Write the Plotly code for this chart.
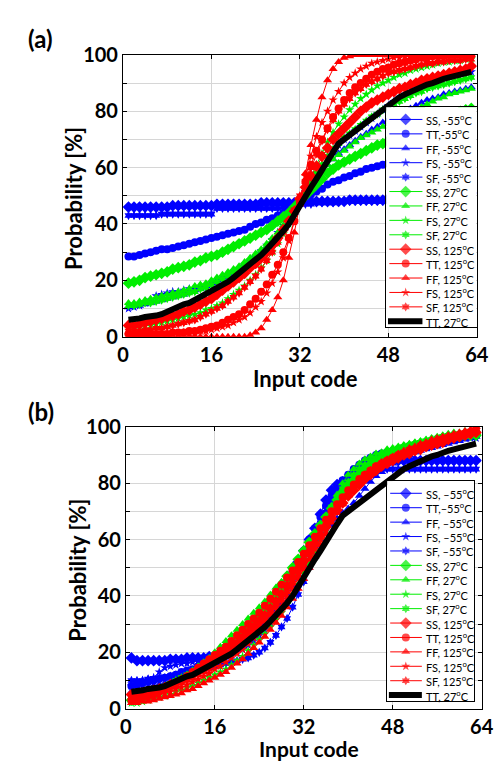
import plotly.graph_objects as go

W, H = 503, 762
codes = list(range(1, 64))

# ---------------- panel (a) data ----------------
tt27_nominal = [6, 6, 6.5, 7, 7, 7.5, 8, 9, 9.5, 10.5,
                11.5, 12, 13, 14, 15.5, 16.5, 17, 18, 19.5, 21,
                22.5, 24, 26, 27.5, 29, 31, 33, 35.5, 37.5, 40,
                43.5, 47, 50, 53, 56, 59.5, 62.5, 65.5, 68.5, 70,
                71.5, 73, 75, 76.5, 78, 79.5, 81, 82.5, 83.5, 85,
                86, 87, 88, 88.5, 89.5, 90, 91, 91.5, 92, 92.5,
                93.5, 93.5, 94]

a_ss_m55 = [46, 46, 46, 46, 46, 46, 46, 46, 46.5, 46.5,
            46.5, 46.5, 46.5, 46.5, 46.5, 46.5, 47, 47, 47, 47,
            47, 47, 47, 47, 47.5, 47.5, 47.5, 47.5, 47.5, 47.5,
            47.5, 47.5, 48, 48, 48, 48, 48, 48, 48, 48,
            48.5, 48.5, 48.5, 48.5, 48.5, 48.5, 48.5, 49, 49, 49,
            49, 49, 49, 49, 49, 49.5, 49.5, 49.5, 49.5, 49.5,
            50, 50, 51]
a_tt_m55 = [28.5, 28.5, 29, 29.5, 30, 30.5, 31, 31, 31.5, 32,
            32.5, 33, 33.5, 34, 34.5, 35, 35.5, 36, 36.5, 37,
            37.5, 38, 39, 40, 40.5, 41.5, 42, 43, 44, 45,
            46, 47.5, 49, 50.5, 51.5, 52.5, 54, 55, 55.5, 56.5,
            57, 58, 58.5, 59.5, 60, 60.5, 61, 61.5, 62, 62.5,
            63, 63.5, 64, 64.5, 65, 66, 66.5, 67, 67.5, 68,
            68.5, 69, 70]
a_ff_m55 = [10.5, 11, 11, 11.5, 12, 12.5, 13, 13.5, 14, 14.5,
            15, 16, 16.5, 17, 18, 19, 20, 21, 22, 23,
            24.5, 26, 27.5, 29, 30.5, 32, 34, 36, 38.5, 41,
            44, 47, 50, 53, 56, 58.5, 61, 63, 65, 66.5,
            68, 69.5, 71, 72, 73.5, 74.5, 76, 77, 78, 79,
            80, 81, 82, 83, 84, 84.5, 85, 86, 86.5, 87,
            87.5, 88, 88.5]
a_fs_m55 = [10, 10.5, 11, 12, 13, 14.5, 15, 15.5, 16, 16,
            16.5, 17, 17, 17.5, 18, 18.5, 19.5, 20.5, 21.5, 23,
            24, 25.5, 27, 28.5, 30.5, 32.5, 34.5, 37, 39.5, 42,
            45, 48, 51.5, 55, 58, 61, 63.5, 66, 68, 70,
            71.5, 73, 74.5, 76, 77.5, 79, 80.5, 82, 83.5, 85,
            86, 87, 88, 89, 90, 90.5, 91, 92, 92.5, 93,
            93.5, 94, 94]
a_sf_m55 = [43, 43, 43, 43, 43, 43, 43.5, 43.5, 43.5, 43.5,
            43.5, 43.5, 43.5, 43.5, 43.5, 43.5, 45.5, 45.5, 45.5, 45.5,
            45.5, 45.5, 45.5, 45.5, 45.5, 45.5, 45.5, 45.5, 46, 46,
            46.5, 47, 47, 47, 47.5, 47.5, 47.5, 47.5, 48, 48,
            48, 48, 48, 48, 48, 48, 48, 48, 48.5, 48.5,
            48.5, 48.5, 49, 49, 49, 49, 49.5, 49.5, 50, 50,
            50.5, 51, 54]
a_ss_27 = [19, 19.5, 20, 21, 21.5, 22, 22.5, 23, 24, 24.5,
           25, 25.5, 26.5, 27, 28, 28.5, 29, 30, 31, 32,
           33, 34, 35, 36, 37, 38, 39.5, 41, 42.5, 44,
           46, 48, 50, 52, 54, 56, 58, 59.5, 61, 62,
           63, 64, 65, 66, 67, 68, 68.5, 69.5, 70.5, 71.5,
           72.5, 73, 74, 75, 75.5, 76.5, 77, 78, 78.5, 79,
           80, 80.5, 81]
a_ff_27 = [12, 12, 12.5, 13, 13.5, 14, 14.5, 15, 15.5, 16,
           16.5, 17, 18, 18.5, 19, 20, 21, 22, 23, 24,
           25, 26.5, 28, 29.5, 31, 33, 35, 37, 39.5, 42,
           45, 48, 51, 54, 56.5, 59, 61, 63, 64.5, 66,
           67.5, 69, 70.5, 71.5, 72.5, 73.5, 74.5, 75.5, 76.5, 77.5,
           78.5, 79.5, 80.5, 81.5, 82.5, 83.5, 84.5, 85, 86, 86.5,
           87, 87.5, 88]
a_fs_27 = [3, 3, 3.5, 4, 4, 4.5, 5, 5.5, 6, 6.5,
           7, 7.5, 8, 8.5, 9.5, 10, 11, 12, 13.5, 15,
           16.5, 18, 20, 22, 24.5, 27, 30, 33, 36.5, 40,
           44, 48, 52.5, 57, 61, 65, 69, 72.5, 75.5, 78,
           80.5, 82.5, 84.5, 86, 87.5, 89, 90, 91, 92, 93,
           93.5, 94.5, 95, 95.5, 96, 96.5, 97, 97.5, 97.5, 98,
           98, 98.5, 98.5]
a_sf_27 = [11, 11, 11.5, 12, 12, 12.5, 13, 13.5, 14, 14.5,
           15, 15.5, 16, 17, 17.5, 18.5, 19.5, 20.5, 21.5, 23,
           24, 25.5, 27, 28.5, 30, 32, 34, 36, 38.5, 41,
           44, 47.5, 51, 54.5, 58, 61, 64, 66.5, 68.5, 70.5,
           72, 73.5, 75, 76.5, 78, 79, 80.5, 81.5, 82.5, 83.5,
           84.5, 85.5, 86.5, 87, 88, 88.5, 89, 89.5, 90, 90.5,
           91, 91.5, 92]
a_ss_125 = [4, 4, 4.5, 5, 5.5, 6, 6.5, 7, 7.5, 8,
            9, 9.5, 10.5, 11.5, 12.5, 13.5, 15, 16.5, 18, 19.5,
            21, 22.5, 24.5, 26, 28, 30, 32.5, 35, 38, 41,
            44.5, 49, 53, 57, 60.5, 64, 67, 70, 72, 74,
            76, 78, 80, 81.5, 83, 84, 85, 86, 87, 88,
            88.5, 89.5, 90, 91, 91.5, 92, 92.5, 93, 93.5, 94,
            94.5, 95, 96]
a_tt_125 = [1, 1, 1, 1, 1, 1, 1, 1, 1.5, 1.5,
            1.5, 2, 2, 2.5, 3, 3.5, 4, 5, 6, 7,
            8, 9.5, 11.5, 13.5, 16, 18.5, 22, 25.5, 30, 35,
            41, 48, 55, 61, 66, 70, 74, 78, 81, 84,
            86.5, 88.5, 90, 91.5, 93, 94, 95, 95.5, 96.5, 97,
            97.5, 98, 98.5, 99, 99, 99.5, 99.5, 99.5, 100, 100,
            100, 100, 100]
a_ff_125 = [0, 0, 0, 0, 0, 0, 0, 0, 0, 0,
            0, 0, 0, 0, 0, 0, 0, 0, 0, 0,
            0, 0, 0.5, 1.5, 3, 6, 9.5, 14, 20, 28,
            37, 47, 58, 68, 77, 85, 91, 95, 97.5, 99,
            99.5, 100, 100, 100, 100, 100, 100, 100, 100, 100,
            100, 100, 100, 100, 100, 100, 100, 100, 100, 100,
            100, 100, 100]
a_fs_125 = [0.5, 0.5, 0.5, 0.5, 0.5, 0.5, 1, 1, 1, 1,
            1.5, 1.5, 1.5, 2, 2, 2.5, 3, 3.5, 4, 5,
            6, 7, 8.5, 10.5, 12.5, 15.5, 19, 23, 28, 34,
            41, 49, 57, 64, 71, 76, 80, 84, 87, 90,
            92, 93.5, 95, 96, 97, 97.5, 98, 98.5, 99, 99,
            99.5, 99.5, 99.5, 99.5, 100, 100, 100, 100, 100, 100,
            100, 100, 100]
a_sf_125 = [2, 2, 2, 2.5, 2.5, 3, 3, 3.5, 4, 4.5,
            5, 5.5, 6, 7, 8, 9, 10, 11, 12.5, 14,
            15.5, 17.5, 19.5, 21.5, 24, 27, 30, 33.5, 37, 41,
            45, 50, 55, 60, 65, 69.5, 73.5, 77, 80, 82.5,
            84.5, 86.5, 88, 89.5, 90.5, 91.5, 92.5, 93.5, 94, 94.5,
            95, 95.5, 96, 96.5, 97, 97, 97.5, 97.5, 98, 98,
            98, 98.5, 98.5]

# ---------------- panel (b) data ----------------
b_ss_m55 = [18, 17, 17, 17, 17, 17, 17, 17.5, 17.5, 17.5,
            18, 18, 18, 18, 18.5, 18.5, 19, 19.5, 20.5, 22,
            23.5, 25.5, 27.5, 30, 32.5, 35, 38, 41, 44.5, 48,
            52, 56, 60, 64, 69, 74, 77.5, 79.5, 80.5, 81.5,
            83, 85, 86.5, 87, 87.5, 88, 88, 88, 88, 88,
            88, 88, 88, 88, 88, 88, 88, 88, 88, 88,
            88, 88, 88]
b_tt_m55 = [8, 8.5, 9, 9.5, 10, 10.5, 11, 11.5, 12, 13,
            13.5, 14, 15, 16, 17, 18, 19, 20, 21, 22.5,
            24, 26, 28, 30.5, 33, 35.5, 38.5, 41.5, 45, 48.5,
            52, 56, 60, 64, 68, 72, 75.5, 78.5, 81, 83,
            85, 86.5, 88, 89, 90, 90.5, 91, 91.5, 92, 92.5,
            93, 93.5, 94, 94.5, 95, 95.5, 96, 96, 96.5, 96.5,
            97, 97, 97]
b_ff_m55 = [6, 6.5, 7, 7.5, 8, 8.5, 9, 9.5, 10, 11,
            12, 12.5, 13.5, 14.5, 15.5, 16.5, 17.5, 18.5, 19.5, 21,
            22.5, 24, 25.5, 27.5, 29.5, 32, 34.5, 37.5, 40.5, 44,
            47.5, 51, 54.5, 57.5, 60, 62, 65, 67.5, 69.5, 71,
            73, 75.5, 78, 80.5, 82.5, 84, 85.5, 87, 88, 89,
            90, 91, 91.5, 92, 92.5, 93, 93.5, 94, 94.5, 95,
            95.5, 96, 96.5]
b_fs_m55 = [8, 9, 10, 10.5, 11, 13, 14.5, 15, 15.5, 16,
            16, 16.5, 17, 17, 17.5, 18, 18, 18.5, 19, 20,
            21, 22.5, 24, 26, 28, 30.5, 33, 36, 39.5, 43,
            47, 51, 55.5, 60, 65, 70, 74, 77.5, 80, 82.5,
            84.5, 86, 87.5, 88.5, 89.5, 90, 90.5, 91, 91.5, 92,
            92.5, 93, 93.5, 94, 94.5, 95, 95, 95.5, 95.5, 96,
            96, 96, 96]
b_sf_m55 = [10, 10, 10, 10.5, 10.5, 11, 11, 11.5, 12, 12,
            12.5, 13, 13.5, 14, 14.5, 15, 15.5, 16, 16.5, 17,
            17.5, 18, 19, 20, 21.5, 23.5, 26, 29, 32, 36,
            40.5, 45, 50, 56, 62, 68, 73, 76.5, 79, 80.5,
            81.5, 82.5, 83.5, 84, 84.5, 85, 85, 85, 85, 85,
            85, 85, 85, 85, 85, 85, 85, 85, 85, 85,
            85, 85, 85]
b_ss_27 = [3, 3.5, 4, 4.5, 5, 6, 7, 8, 9, 10,
           11, 12.5, 14, 15.5, 17, 18.5, 20, 21.5, 23, 25,
           27, 29, 31, 33.5, 36, 38.5, 41, 44, 47, 50,
           53, 56, 59, 62, 65, 68, 71, 74, 76.5, 79,
           81, 83, 85, 86.5, 88, 89, 90, 91, 91.5, 92.5,
           93, 93.5, 94, 94.5, 95, 95.5, 96, 96, 96.5, 96.5,
           97, 97, 97]
b_ff_27 = [3, 3.5, 4, 5, 5.5, 6.5, 7.5, 8.5, 9.5, 10.5,
           12, 13.5, 15, 16.5, 18, 20, 22, 24, 26, 28,
           30, 32, 34, 36, 38, 40.5, 43, 45, 47.5, 50,
           53, 56, 59, 62, 65, 68, 72, 76, 80, 83,
           85, 87, 88.5, 89.5, 90.5, 91, 92, 92.5, 93, 93.5,
           94, 94.5, 95, 95.5, 96, 96.5, 97, 97.5, 98, 98,
           98.5, 98.5, 99]
b_fs_27 = [2, 2, 2.5, 3, 3.5, 4, 4.5, 5, 6, 6.5,
           7.5, 8, 9, 10, 11, 12, 13, 14, 15.5, 17,
           18.5, 20.5, 22.5, 24.5, 26.5, 29, 31.5, 34, 37, 40.5,
           44, 48, 52, 56, 60, 64, 68, 72, 75.5, 78.5,
           81, 83, 85, 86.5, 88, 89, 90, 91, 92, 92.5,
           93, 93.5, 94, 94.5, 95, 95.5, 96, 96, 96.5, 97,
           97, 97.5, 97.5]
b_sf_27 = [4, 4.5, 5, 5.5, 6, 7, 8, 9, 10, 11,
           12, 13, 14, 15, 16.5, 18, 19.5, 21, 22.5, 24,
           26, 28, 30, 32, 34.5, 37, 39.5, 42, 45, 48,
           51, 54, 57.5, 61, 64.5, 68, 71.5, 75, 78, 80.5,
           83, 85, 86.5, 88, 89, 90, 91, 91.5, 92.5, 93,
           93.5, 94, 94.5, 95, 95.5, 96, 96.5, 97, 97, 97.5,
           97.5, 98, 98]
b_ss_125 = [5, 5, 5.5, 6, 6.5, 7, 7.5, 8.5, 9, 10,
            11, 12, 13, 14, 15.5, 17, 18.5, 20, 21.5, 23,
            25, 27, 29, 31, 33, 35.5, 38, 40.5, 43.5, 46.5,
            49.5, 52.5, 55.5, 58.5, 61.5, 64.5, 67.5, 70.5, 73, 75.5,
            77.5, 79.5, 81.5, 83, 84.5, 86, 87, 88, 89, 90,
            90.5, 91.5, 92, 93, 93.5, 94, 94.5, 95.5, 96, 96.5,
            97, 97.5, 98]
b_tt_125 = [3, 3.5, 4, 4.5, 5, 6, 7, 8, 9, 10,
            11.5, 13, 14.5, 16, 17.5, 19, 20.5, 22, 24, 26,
            28, 30, 32, 34, 36.5, 39, 41.5, 44, 46.5, 49,
            52, 55, 58, 61, 64, 67, 70, 72.5, 75, 77.5,
            79.5, 81.5, 83, 84.5, 86, 87, 88, 89, 90, 90.5,
            91.5, 92, 93, 93.5, 94, 95, 95.5, 96, 96.5, 97,
            97.5, 98, 98.5]
b_ff_125 = [2, 2, 2.5, 2.5, 3, 3.5, 4, 4.5, 5, 5.5,
            6.5, 7, 8, 9, 10, 11, 12, 13, 14.5, 16,
            17.5, 19.5, 21.5, 23.5, 25.5, 28, 30.5, 33, 36, 39,
            42.5, 46, 50, 54, 58, 62, 66, 69.5, 72.5, 75.5,
            78, 80.5, 82.5, 84.5, 86, 87.5, 88.5, 89.5, 90.5, 91.5,
            92.5, 93, 94, 94.5, 95.5, 96, 96.5, 97, 97.5, 98,
            98.5, 99, 100]
b_fs_125 = [3, 3, 3.5, 4, 4.5, 5, 5.5, 6, 7, 7.5,
            8.5, 9.5, 10.5, 11.5, 12.5, 14, 15, 16.5, 18, 19.5,
            21, 23, 25, 27, 29, 31.5, 34, 36.5, 39.5, 42.5,
            46, 49.5, 53, 56.5, 60, 63.5, 67, 70, 73, 76,
            78.5, 80.5, 82.5, 84, 85.5, 87, 88, 89, 90, 91,
            91.5, 92.5, 93, 94, 94.5, 95, 95.5, 96, 96.5, 97,
            97.5, 98, 99]
b_sf_125 = [4, 4, 4.5, 5, 5.5, 6, 6.5, 7.5, 8, 9,
            10, 11, 12, 13, 14, 15.5, 17, 18.5, 20, 21.5,
            23, 25, 27, 29, 31, 33.5, 36, 38.5, 41.5, 44.5,
            47.5, 51, 54.5, 58, 61.5, 65, 68, 71, 74, 76.5,
            79, 81, 83, 84.5, 86, 87, 88, 89, 90, 91,
            92, 92.5, 93.5, 94, 94.5, 95, 96, 96.5, 97, 97.5,
            98, 98.5, 99]

# ---------------- series metadata ----------------
series_colors = ["#0000ff"] * 5 + ["#00ee00"] * 4 + ["#ff0000"] * 5 + ["#000000"]
series_symbols = ["diamond", "circle", "triangle-up", "star", "hexagram",
                  "diamond", "triangle-up", "star", "hexagram",
                  "diamond", "circle", "triangle-up", "star", "hexagram", None]
series_msize = {"diamond": 9, "circle": 8, "triangle-up": 8, "star": 7, "hexagram": 7}

labels_a = ["SS, -55<sup>o</sup>C", "TT,-55<sup>o</sup>C", "FF, -55<sup>o</sup>C",
            "FS, -55<sup>o</sup>C", "SF, -55<sup>o</sup>C",
            "SS, 27<sup>o</sup>C", "FF, 27<sup>o</sup>C", "FS, 27<sup>o</sup>C", "SF, 27<sup>o</sup>C",
            "SS, 125<sup>o</sup>C", "TT, 125<sup>o</sup>C", "FF, 125<sup>o</sup>C",
            "FS, 125<sup>o</sup>C", "SF, 125<sup>o</sup>C", "TT, 27<sup>o</sup>C"]
labels_b = [s.replace("-55", "\u201355") for s in labels_a]

data_a = [a_ss_m55, a_tt_m55, a_ff_m55, a_fs_m55, a_sf_m55,
          a_ss_27, a_ff_27, a_fs_27, a_sf_27,
          a_ss_125, a_tt_125, a_ff_125, a_fs_125, a_sf_125, tt27_nominal]
data_b = [b_ss_m55, b_tt_m55, b_ff_m55, b_fs_m55, b_sf_m55,
          b_ss_27, b_ff_27, b_fs_27, b_sf_27,
          b_ss_125, b_tt_125, b_ff_125, b_fs_125, b_sf_125, tt27_nominal]

for d in data_a + data_b:
    assert len(d) == len(codes), len(d)

x_ticks = [0, 16, 32, 48, 64]

fig = go.Figure()


def add_panel(data, labels, xa, ya, lxa, lya):
    for vals, col, sym in zip(data, series_colors, series_symbols):
        if sym is None:
            fig.add_trace(go.Scatter(x=codes, y=vals, mode="lines", xaxis=xa, yaxis=ya,
                                     line=dict(color=col, width=6), showlegend=False,
                                     hoverinfo="skip"))
        else:
            fig.add_trace(go.Scatter(x=codes, y=vals, mode="lines+markers", xaxis=xa, yaxis=ya,
                                     line=dict(color=col, width=1),
                                     marker=dict(symbol=sym, size=series_msize[sym], color=col,
                                                 line=dict(width=0)),
                                     showlegend=False, hoverinfo="skip"))
    # custom legend box (keys)
    for i, (lab, col, sym) in enumerate(zip(labels, series_colors, series_symbols)):
        if sym is None:
            fig.add_trace(go.Scatter(x=[0.02, 0.40], y=[i, i], mode="lines", xaxis=lxa, yaxis=lya,
                                     line=dict(color=col, width=6), showlegend=False,
                                     hoverinfo="skip"))
        else:
            fig.add_trace(go.Scatter(x=[0.035, 0.215, 0.40], y=[i, i, i], mode="lines+markers",
                                     xaxis=lxa, yaxis=lya, line=dict(color=col, width=1),
                                     marker=dict(symbol=sym, size=[0, series_msize[sym], 0],
                                                 color=col, line=dict(width=0)),
                                     showlegend=False, hoverinfo="skip"))
        fig.add_annotation(x=0.42, y=i, xref=lxa, yref=lya, text=lab, showarrow=False,
                           xanchor="left", yanchor="middle",
                           font=dict(family="Lato", size=11, color="black"))


add_panel(data_a, labels_a, "x", "y", "x3", "y3")
add_panel(data_b, labels_b, "x2", "y2", "x4", "y4")

grid_col = "#d6d6d6"
tick_font = dict(family="Lato", size=20, color="black", weight="bold")


def px_dom(a, b, total):
    return [a / total, b / total]


def y_dom(top, bottom):
    return [1 - bottom / H, 1 - top / H]


def main_x(dom, anchor):
    return dict(domain=dom, anchor=anchor, range=[0, 64], tickvals=x_ticks,
                showgrid=True, gridcolor=grid_col, gridwidth=1, zeroline=False,
                showline=True, linecolor="black", linewidth=1, mirror="ticks",
                ticks="inside", ticklen=4, tickcolor="black", tickfont=tick_font,
                fixedrange=True)


def main_y(dom, anchor):
    return dict(domain=dom, anchor=anchor, range=[0, 100], tick0=0, dtick=20,
                showgrid=True, gridcolor=grid_col, gridwidth=1, zeroline=False,
                showline=True, linecolor="black", linewidth=1, mirror="ticks",
                ticks="inside", ticklen=4, tickcolor="black", tickfont=tick_font,
                minor=dict(dtick=10, showgrid=True, gridcolor=grid_col, ticks="inside",
                           ticklen=4, tickcolor="black"),
                fixedrange=True)


def leg_x(dom, anchor):
    return dict(domain=dom, anchor=anchor, range=[0, 1], showgrid=False, zeroline=False,
                showticklabels=False, ticks="", showline=True, linecolor="black",
                linewidth=1, mirror=True, fixedrange=True)


def leg_y(dom, anchor):
    return dict(domain=dom, anchor=anchor, range=[14.4, -0.85], showgrid=False, zeroline=False,
                showticklabels=False, ticks="", showline=True, linecolor="black",
                linewidth=1, mirror=True, fixedrange=True)


fig.update_layout(
    width=W, height=H, margin=dict(l=0, r=0, t=0, b=0),
    paper_bgcolor="white", plot_bgcolor="white", showlegend=False,
    xaxis=main_x(px_dom(113, 480, W), "y"),
    yaxis=main_y(y_dom(35, 326), "x"),
    xaxis2=main_x(px_dom(116, 485, W), "y2"),
    yaxis2=main_y(y_dom(419, 710), "x2"),
    xaxis3=leg_x(px_dom(386, 480, W), "y3"),
    yaxis3=leg_y(y_dom(89, 316), "x3"),
    xaxis4=leg_x(px_dom(387, 477, W), "y4"),
    yaxis4=leg_y(y_dom(475, 702), "x4"),
)


def ann(text, px, py, size=22, angle=0):
    fig.add_annotation(x=px / W, y=1 - py / H, xref="paper", yref="paper", text=text,
                       showarrow=False, xanchor="center", yanchor="middle", textangle=angle,
                       font=dict(family="Lato", size=size, color="black", weight="bold"))


ann("(a)", 27, 18, 24)
ann("Probability [%]", 61, 183, 22, -90)
ann("Input code", 302, 369, 22)
ann("(b)", 28, 403, 24)
ann("Probability [%]", 65, 567, 22, -90)
ann("Input code", 306, 751, 21)

fig.write_html("out.html")
